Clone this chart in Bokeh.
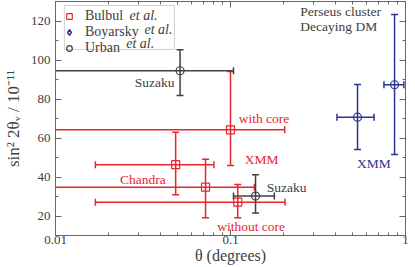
import math
from bokeh.plotting import figure
from bokeh.models import (ColumnDataSource, FixedTicker, LinearAxis, LogAxis, Label,
                          Legend, LegendItem, BoxAnnotation, CustomJSTickFormatter)
from bokeh.embed import file_html
from bokeh.resources import INLINE

# ---------------- data ----------------
# Bulbul et al. (red squares)
bulbul_theta = [0.100, 0.0486, 0.072, 0.110]
bulbul_sin2 = [64.2, 46.3, 34.8, 27.1]
bulbul_theta_lo = [0.001, 0.0169, 0.001, 0.0169]
bulbul_theta_hi = [0.204, 0.0804, 0.137, 0.205]
bulbul_sin2_lo = [45.9, 30.9, 19.1, 19.1]
bulbul_sin2_hi = [94.1, 63.0, 49.1, 36.2]

# Boyarsky et al. (blue)
boyarsky_theta = [0.532, 0.866]
boyarsky_sin2 = [70.7, 87.3]
boyarsky_theta_lo = [0.406, 0.753]
boyarsky_theta_hi = [0.661, 0.978]
boyarsky_sin2_lo = [54.1, 51.5]
boyarsky_sin2_hi = [87.4, 123.3]

# Urban et al. (dark grey circles)
urban_theta = [0.0515, 0.139]
urban_sin2 = [94.5, 30.2]
urban_theta_lo = [0.001, 0.104]
urban_theta_hi = [0.104, 0.178]
urban_sin2_lo = [81.8, 21.5]
urban_sin2_hi = [105.2, 41.1]

x_ticks = [0.01, 0.1, 1.0]
x_tick_labels = ["0.01", "0.1", "1"]
y_ticks = [20, 40, 60, 80, 100, 120]
y_minor = [10, 30, 50, 70, 90, 110, 130]

RED = "#e8262d"
BLUE = "#2b3592"
GREY = "#404040"
FRAME = "#666666"
FONT = "Liberation Serif"

X_MIN, X_MAX = 0.01, 1.0
Y_MIN, Y_MAX = 10, 130

p = figure(width=415, height=267, x_axis_type="log",
           x_range=(X_MIN, X_MAX), y_range=(Y_MIN, Y_MAX),
           output_backend="svg", toolbar_location=None,
           min_border_left=52, min_border_right=10, min_border_top=1,
           min_border_bottom=32, margin=(0, 0, 0, 0))
p.xgrid.visible = False
p.ygrid.visible = False
p.outline_line_color = FRAME
p.outline_line_width = 1
p.background_fill_color = "white"
p.border_fill_color = "white"

x_minor = [m * d for d in (0.01, 0.1) for m in range(2, 10)]
xt = FixedTicker(ticks=x_ticks, minor_ticks=x_minor)
yt = FixedTicker(ticks=y_ticks, minor_ticks=y_minor)


def style_axis(ax, labels=True):
    ax.axis_line_color = FRAME
    ax.major_tick_line_color = FRAME
    ax.minor_tick_line_color = FRAME
    ax.major_tick_in = 6
    ax.major_tick_out = 0
    ax.minor_tick_in = 3
    ax.minor_tick_out = 0
    ax.major_label_text_font = FONT
    ax.major_label_text_color = GREY
    ax.axis_label_text_font = FONT
    ax.axis_label_text_font_style = "normal"
    ax.axis_label_text_color = GREY
    if not labels:
        ax.formatter = CustomJSTickFormatter(code="return ''")
        ax.major_label_standoff = 0


xa = p.xaxis[0]
xa.ticker = xt
xa.major_label_overrides = {t: l for t, l in zip(x_ticks, x_tick_labels)}
style_axis(xa)
xa.major_label_text_font_size = "13px"
xa.major_label_standoff = 0
xa.axis_label = "θ (degrees)"
xa.axis_label_text_font_size = "16px"
xa.axis_label_standoff = 0

ya = p.yaxis[0]
ya.ticker = yt
style_axis(ya)
ya.major_label_text_font_size = "13px"
ya.major_label_standoff = 5
ya.axis_label = "sin² 2θᵥ / 10⁻¹¹"
ya.axis_label_text_font_size = "17px"
ya.axis_label_standoff = 5

top = LogAxis(ticker=xt)
style_axis(top, labels=False)
p.add_layout(top, "above")
right = LinearAxis(ticker=yt)
style_axis(right, labels=False)
p.add_layout(right, "right")


def draw(theta, s, tlo, thi, slo, shi, color, marker):
    src = ColumnDataSource(dict(t=theta, s=s, tlo=tlo, thi=thi, slo=slo, shi=shi))
    p.segment(x0="tlo", y0="s", x1="thi", y1="s", source=src, line_color=color, line_width=1.5)
    p.segment(x0="t", y0="slo", x1="t", y1="shi", source=src, line_color=color, line_width=1.5)
    p.scatter(x="t", y="shi", source=src, marker="dash", size=7, line_color=color, line_width=1.5)
    p.scatter(x="t", y="slo", source=src, marker="dash", size=7, line_color=color, line_width=1.5)
    p.scatter(x="thi", y="s", source=src, marker="dash", size=7, angle=math.pi / 2,
              line_color=color, line_width=1.5)
    lo = [i for i, v in enumerate(tlo) if v >= X_MIN]
    if lo:
        p.scatter(x=[tlo[i] for i in lo], y=[s[i] for i in lo], marker="dash", size=7,
                  angle=math.pi / 2, line_color=color, line_width=1.5)
    r = p.scatter(x="t", y="s", source=src, marker=marker, size=8, fill_alpha=0,
                  line_color=color, line_width=1.2)
    return src, r


_, r_bul = draw(bulbul_theta, bulbul_sin2, bulbul_theta_lo, bulbul_theta_hi,
                bulbul_sin2_lo, bulbul_sin2_hi, RED, "square")
src_boy, r_boy = draw(boyarsky_theta, boyarsky_sin2, boyarsky_theta_lo, boyarsky_theta_hi,
                      boyarsky_sin2_lo, boyarsky_sin2_hi, BLUE, "circle")
_, r_urb = draw(urban_theta, urban_sin2, urban_theta_lo, urban_theta_hi,
                urban_sin2_lo, urban_sin2_hi, GREY, "circle")
r_boy_leg = p.scatter(x="t", y="s", source=src_boy, marker="diamond", size=0, fill_alpha=0,
                      line_color=BLUE, line_width=1.5)

# legend frame
p.add_layout(BoxAnnotation(left=0.01124, right=0.04785, top=127.95, bottom=105.4,
                           fill_alpha=0, line_color=FRAME, line_width=1, level="overlay"))

legend = Legend(items=[LegendItem(label="Bulbul", renderers=[r_bul]),
                       LegendItem(label="Boyarsky", renderers=[r_boy_leg]),
                       LegendItem(label="Urban", renderers=[r_urb])],
                location="top_left", margin=4, padding=3, spacing=0,
                border_line_alpha=0, background_fill_alpha=0,
                glyph_width=14, glyph_height=14, label_height=14, label_standoff=9,
                label_text_font=FONT, label_text_font_size="14px", label_text_color=GREY)
p.add_layout(legend)


def lab(x, y, text, color, style="normal", size="13.5px", align="left"):
    p.add_layout(Label(x=x, y=y, text=text, text_color=color, text_font=FONT,
                       text_font_size=size, text_font_style=style,
                       text_baseline="middle", text_align=align))


lab(0.02650, 122.8, "et al.", GREY, "italic", "14px")
lab(0.03223, 115.6, "et al.", GREY, "italic", "14px")
lab(0.02535, 108.5, "et al.", GREY, "italic", "14px")

lab(0.0284, 88.5, "Suzaku", GREY)
lab(0.1113, 70.0, "with core", RED)
lab(0.1208, 49.0, "XMM", RED)
lab(0.02333, 38.7, "Chandra", RED)
lab(0.161, 34.6, "Suzaku", GREY)
lab(0.0839, 14.8, "without core", RED)
lab(0.5277, 46.9, "XMM", BLUE)
lab(0.2507, 124.9, "Perseus cluster", GREY)
lab(0.2507, 117.2, "Decaying DM", GREY)

open("out.html", "w").write(file_html(p, INLINE))
